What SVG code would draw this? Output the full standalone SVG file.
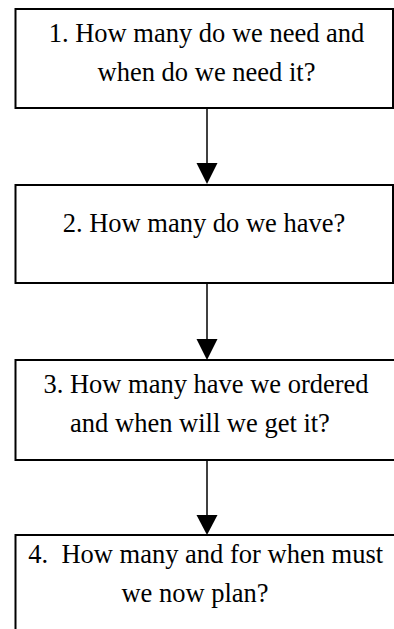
<svg xmlns="http://www.w3.org/2000/svg" width="394" height="629" viewBox="0 0 394 629">
<style>
.box{fill:#fff;stroke:#000;stroke-width:2}
.t{font-family:"Liberation Serif","Times New Roman",serif;font-size:26.5px;fill:#000;text-anchor:middle}
.c{stroke:#000;stroke-width:1.5;fill:none}
.h{fill:#000}
</style>
<rect width="394" height="629" fill="#fff"/>
<g id="node1"><rect class="box" x="15.5" y="9" width="377.5" height="99"/>
<text class="t" x="206.5" y="42">1. How many do we need and</text>
<text class="t" x="206.5" y="81">when do we need it?</text></g>
<g id="node2"><rect class="box" x="15.5" y="185" width="377.5" height="98"/>
<text class="t" x="204" y="232">2. How many do we have?</text></g>
<g id="node3"><rect class="box" x="15.5" y="360" width="390" height="100"/>
<text class="t" x="206" y="393">3. How many have we ordered</text>
<text class="t" x="200" y="432">and when will we get it?</text></g>
<g id="node4"><rect class="box" x="15.5" y="535" width="390" height="110"/>
<text class="t" x="205.7" y="563" xml:space="preserve">4.  How many and for when must</text>
<text class="t" x="195" y="602">we now plan?</text></g>
<g id="connectors">
<line class="c" x1="207" y1="108" x2="207" y2="165"/><polygon class="h" points="196.5,163 217.5,163 207,184"/>
<line class="c" x1="207" y1="283" x2="207" y2="341"/><polygon class="h" points="196.5,339 217.5,339 207,360"/>
<line class="c" x1="207" y1="460" x2="207" y2="517"/><polygon class="h" points="196.5,515 217.5,515 207,535"/>
</g>
</svg>
